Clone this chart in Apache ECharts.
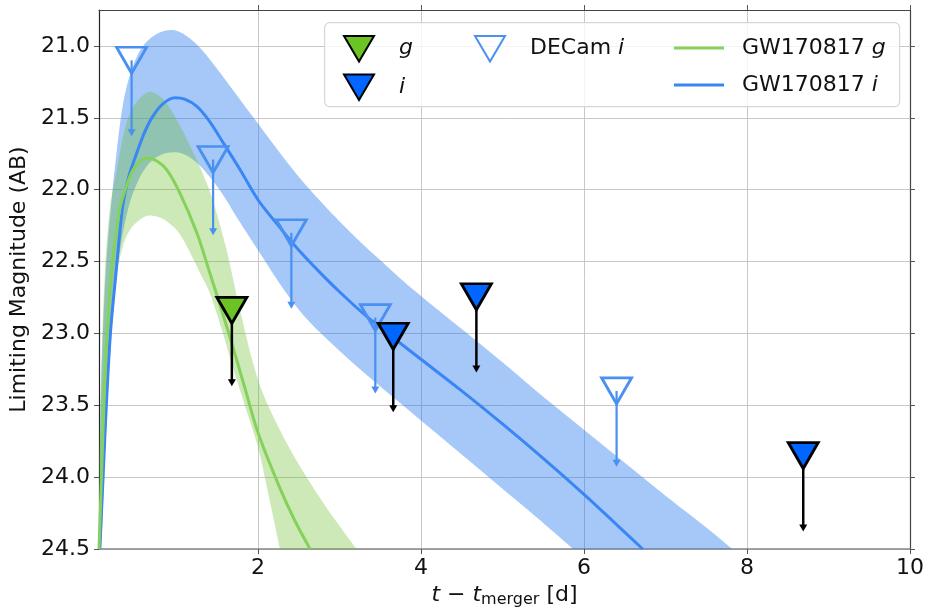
<!DOCTYPE html>
<html>
<head>
<meta charset="utf-8">
<title>GW170817 limits</title>
<script src="https://cdn.jsdelivr.net/npm/echarts@6/dist/echarts.min.js"></script>
<style>
html, body { margin: 0; padding: 0; background: #fff; }
#main { width: 934px; height: 609px; }
</style>
</head>
<body>
<div id="main"></div>
<script>
// tick labels
var X_TICKS = [2, 4, 6, 8, 10];
var Y_TICKS = [21.0, 21.5, 22.0, 22.5, 23.0, 23.5, 24.0, 24.5];

// upper limits [t - t_merger (d), mag]
var gLimits = [[1.68, 22.84]];
var iLimits = [[3.66, 23.02], [4.68, 22.745], [8.69, 23.85]];
var decamLimits = [[0.45, 21.1], [1.45, 21.79], [2.41, 22.30], [3.44, 22.89], [6.40, 23.40]];
var ARROW_LEN = 0.5;

// GW170817 model light curves
var gLine = [[0.05, 24.5], [0.08, 24.0], [0.11, 23.5], [0.15, 23.0], [0.2, 22.6], [0.26, 22.3], [0.31, 22.12],
    [0.39, 21.97], [0.47, 21.86], [0.56, 21.8], [0.65, 21.78], [0.76, 21.8], [0.88, 21.86], [1.04, 22.02],
    [1.25, 22.3], [1.41, 22.58], [1.55, 22.83], [1.68, 23.07], [1.84, 23.38], [2.0, 23.69], [2.25, 24.05],
    [2.45, 24.3], [2.64, 24.5]];
var gUpper = [[0.05, 23.9], [0.08, 23.2], [0.12, 22.6], [0.18, 22.15], [0.27, 21.86], [0.35, 21.62], [0.43, 21.47],
    [0.54, 21.37], [0.66, 21.32], [0.77, 21.34], [0.88, 21.4], [1.02, 21.53], [1.17, 21.7], [1.31, 21.87],
    [1.45, 22.08], [1.62, 22.43], [1.78, 22.84], [2.0, 23.32], [2.25, 23.65], [2.52, 23.93], [2.85, 24.22],
    [3.21, 24.5]];
var gLower = [[0.07, 24.5], [0.1, 24.0], [0.13, 23.5], [0.18, 23.0], [0.26, 22.62], [0.34, 22.4], [0.43, 22.28],
    [0.55, 22.21], [0.66, 22.18], [0.78, 22.19], [0.88, 22.22], [1.03, 22.3], [1.17, 22.44], [1.29, 22.58],
    [1.41, 22.72], [1.55, 22.96], [1.7, 23.25], [1.85, 23.52], [2.0, 23.79], [2.14, 24.15], [2.27, 24.5]];

var iLine = [[0.06, 24.5], [0.1, 24.0], [0.14, 23.5], [0.19, 23.0], [0.25, 22.63], [0.34, 22.12], [0.42, 21.9],
    [0.51, 21.75], [0.61, 21.6], [0.71, 21.49], [0.84, 21.4], [0.98, 21.36], [1.1, 21.37], [1.25, 21.42],
    [1.4, 21.52], [1.57, 21.67], [1.78, 21.86], [2.0, 22.07], [2.25, 22.25], [2.5, 22.42], [2.75, 22.57],
    [3.0, 22.71], [3.33, 22.88], [3.66, 23.03], [4.0, 23.18], [4.5, 23.4], [5.0, 23.63], [5.5, 23.87],
    [6.0, 24.12], [6.4, 24.33], [6.72, 24.5]];
var iUpper = [[0.05, 24.2], [0.08, 23.3], [0.13, 22.6], [0.2, 22.1], [0.27, 21.72], [0.34, 21.42], [0.42, 21.22],
    [0.51, 21.08], [0.62, 20.98], [0.78, 20.91], [0.96, 20.89], [1.12, 20.93], [1.3, 21.02], [1.5, 21.16],
    [1.75, 21.35], [2.0, 21.54], [2.25, 21.73], [2.5, 21.91], [2.75, 22.07], [3.0, 22.22], [3.25, 22.36],
    [3.5, 22.49], [3.75, 22.62], [4.0, 22.74], [4.5, 22.97], [5.0, 23.2], [5.5, 23.44], [6.0, 23.67],
    [6.5, 23.9], [7.0, 24.13], [7.5, 24.35], [7.82, 24.5]];
var iLower = [[0.08, 24.5], [0.12, 23.9], [0.17, 23.3], [0.23, 22.8], [0.3, 22.45], [0.4, 22.15], [0.52, 21.95],
    [0.66, 21.82], [0.8, 21.76], [0.96, 21.74], [1.12, 21.76], [1.3, 21.84], [1.53, 22.0], [1.75, 22.2],
    [2.0, 22.42], [2.3, 22.68], [2.6, 22.9], [3.0, 23.12], [3.4, 23.32], [3.8, 23.51], [4.2, 23.7],
    [4.6, 23.89], [5.0, 24.08], [5.4, 24.27], [5.87, 24.5]];

var FONT = 'DejaVu Sans';
var TRI = 'path://M0,0L20,0L10,17Z';
var C_G = '#6cc424', C_I = '#0066ff', C_DECAM = '#4a90f0';
var C_GLINE = '#84d25a', C_ILINE = '#3a86f5';

var myChart = echarts.init(document.getElementById('main'));

// catmull-rom through pixel points -> svg path segments (no leading M)
function splineSegs(p) {
    var s = '';
    for (var k = 0; k < p.length - 1; k++) {
        var a = p[k - 1] || p[k], b = p[k], c = p[k + 1], d = p[k + 2] || c;
        var c1x = b[0] + (c[0] - a[0]) / 6, c1y = b[1] + (c[1] - a[1]) / 6;
        var c2x = c[0] - (d[0] - b[0]) / 6, c2y = c[1] - (d[1] - b[1]) / 6;
        s += 'C' + c1x + ',' + c1y + ',' + c2x + ',' + c2y + ',' + c[0] + ',' + c[1];
    }
    return s;
}

// filled area between two edges, placed with the axes
function bandItem(upper, lower, fill) {
    return function (params, api) {
        var up = [], lo = [];
        for (var i = 0; i < upper.length; i++) up.push(api.coord(upper[i]));
        for (var j = lower.length - 1; j >= 0; j--) lo.push(api.coord(lower[j]));
        var d = 'M' + up[0][0] + ',' + up[0][1] + splineSegs(up) +
            'L' + lo[0][0] + ',' + lo[0][1] + splineSegs(lo) + 'Z';
        return { type: 'path', shape: { pathData: d }, style: { fill: fill } };
    };
}

// downward upper-limit arrow
function arrowItem(color, w) {
    return function (params, api) {
        var x = api.value(0), y = api.value(1);
        var p0 = api.coord([x, y]);
        var p1 = api.coord([x, y + ARROW_LEN]);
        return {
            type: 'group',
            children: [
                { type: 'line', shape: { x1: p0[0], y1: p0[1], x2: p1[0], y2: p1[1] }, style: { stroke: color, lineWidth: w } },
                { type: 'polygon', shape: { points: [[p1[0] - 4, p1[1] - 3], [p1[0] + 4, p1[1] - 3], [p1[0], p1[1] + 4]] }, style: { fill: color } }
            ]
        };
    };
}

function legendFmt(name) {
    var parts = name.split(' ');
    var last = parts.pop();
    return (parts.length ? parts.join(' ') + ' ' : '') + '{it|' + last + '}';
}

var legendText = {
    fontFamily: FONT, fontSize: 22, color: '#111', lineHeight: 26,
    rich: { it: { fontFamily: FONT, fontSize: 22, fontStyle: 'italic', color: '#111', lineHeight: 26 } }
};

function legendTextPad(p) {
    var t = JSON.parse(JSON.stringify(legendText));
    t.padding = [0, 0, 0, p];
    return t;
}

option = {
    animation: false,
    backgroundColor: '#fff',
    grid: { left: 99, right: 24, top: 10, bottom: 60, containLabel: false, outerBoundsMode: 'none' },
    xAxis: [{
        type: 'value', min: 0.05, max: 10,
        name: '{it|t} − {it|t}{sub|merger} [d]',
        nameLocation: 'middle', nameGap: 30,
        nameTextStyle: {
            fontFamily: FONT, fontSize: 22, color: '#111',
            rich: {
                it: { fontFamily: FONT, fontSize: 22, fontStyle: 'italic', color: '#111' },
                sub: { fontFamily: FONT, fontSize: 16, color: '#111', padding: [10, 0, 0, 0] }
            }
        },
        axisLine: { show: true, lineStyle: { color: '#888', width: 1.5 } },
        axisTick: { show: true, inside: false, length: 5, customValues: X_TICKS, lineStyle: { color: '#555' } },
        axisLabel: { customValues: X_TICKS, fontFamily: FONT, fontSize: 22, color: '#111', margin: 8 },
        splitLine: { show: true, lineStyle: { color: '#c8c8c8', width: 1 } }
    }, {
        type: 'value', min: 0.05, max: 10, position: 'top',
        axisLine: { show: true, onZero: false, lineStyle: { color: '#444', width: 1.2 } },
        axisTick: { show: true, inside: false, length: 5, customValues: X_TICKS, lineStyle: { color: '#555' } },
        axisLabel: { show: false },
        splitLine: { show: false }
    }],
    yAxis: [{
        type: 'value', min: 20.75, max: 24.5, inverse: true,
        name: 'Limiting Magnitude (AB)',
        nameLocation: 'middle', nameGap: 58,
        nameTextStyle: { fontFamily: FONT, fontSize: 22, color: '#111' },
        axisLine: { show: true, onZero: false, lineStyle: { color: '#222', width: 1.2 } },
        axisTick: { show: true, inside: false, length: 5, customValues: Y_TICKS, lineStyle: { color: '#555' } },
        axisLabel: {
            customValues: Y_TICKS, fontFamily: FONT, fontSize: 22, color: '#111', margin: 9,
            formatter: function (v) { return v.toFixed(1); }
        },
        splitLine: { show: true, lineStyle: { color: '#c8c8c8', width: 1 } }
    }, {
        type: 'value', min: 20.75, max: 24.5, inverse: true, position: 'right',
        axisLine: { show: true, onZero: false, lineStyle: { color: '#444', width: 1.2 } },
        axisTick: { show: true, inside: false, length: 5, customValues: Y_TICKS, lineStyle: { color: '#555' } },
        axisLabel: { show: false },
        splitLine: { show: false }
    }],
    legend: [{
        data: [{ name: 'g', icon: TRI }, { name: 'i', icon: TRI }],
        orient: 'vertical', left: 338, top: 30, itemWidth: 30, itemHeight: 26, itemGap: 11,
        selectedMode: false, formatter: legendFmt, textStyle: legendTextPad(20), z: 6
    }, {
        data: [{ name: 'DECam i', icon: TRI }],
        orient: 'vertical', left: 469, top: 30, itemWidth: 30, itemHeight: 26,
        selectedMode: false, formatter: legendFmt, textStyle: legendTextPad(20), z: 6
    }, {
        data: [{ name: 'GW170817 g', icon: 'rect' }, { name: 'GW170817 i', icon: 'rect' }],
        orient: 'vertical', left: 669, top: 30, itemWidth: 50, itemHeight: 3, itemGap: 11,
        selectedMode: false, formatter: legendFmt, textStyle: legendTextPad(13), z: 6
    }],
    graphic: {
        elements: [{
            type: 'rect', left: 324, top: 22, z: 5,
            shape: { width: 575, height: 84, r: 5 },
            style: { fill: 'rgba(255,255,255,0.8)', stroke: '#d6d6d6', lineWidth: 1.2 }
        }]
    },
    series: [{
        type: 'custom', name: 'band i', z: 1, silent: true, clip: true,
        renderItem: bandItem(iUpper, iLower, 'rgba(30,118,238,0.4)'),
        data: [[1, 22]]
    }, {
        type: 'custom', name: 'band g', z: 1, silent: true, clip: true,
        renderItem: bandItem(gUpper, gLower, 'rgba(100,188,30,0.32)'),
        data: [[1, 22]]
    }, {
        type: 'line', name: 'GW170817 i', z: 2, data: iLine, showSymbol: false, smooth: 0.3,
        color: C_ILINE, itemStyle: { color: C_ILINE }, lineStyle: { color: C_ILINE, width: 3 }
    }, {
        type: 'line', name: 'GW170817 g', z: 2, data: gLine, showSymbol: false, smooth: 0.3,
        color: C_GLINE, itemStyle: { color: C_GLINE }, lineStyle: { color: C_GLINE, width: 3 }
    }, {
        type: 'custom', name: 'DECam arrows', z: 3, silent: true,
        renderItem: arrowItem(C_DECAM, 2.2), data: decamLimits
    }, {
        type: 'scatter', name: 'DECam i', z: 3, data: decamLimits, symbol: TRI, symbolSize: [30, 26],
        color: C_DECAM,
        itemStyle: { color: 'rgba(255,255,255,0)', borderColor: C_DECAM, borderWidth: 2.8, opacity: 1 }
    }, {
        type: 'custom', name: 'g arrows', z: 4, silent: true,
        renderItem: arrowItem('#000', 2.5), data: gLimits
    }, {
        type: 'custom', name: 'i arrows', z: 4, silent: true,
        renderItem: arrowItem('#000', 2.5), data: iLimits
    }, {
        type: 'scatter', name: 'g', z: 4, data: gLimits, symbol: TRI, symbolSize: [30, 26],
        itemStyle: { color: C_G, borderColor: '#000', borderWidth: 2.8, opacity: 1 }
    }, {
        type: 'scatter', name: 'i', z: 4, data: iLimits, symbol: TRI, symbolSize: [30, 26],
        itemStyle: { color: C_I, borderColor: '#000', borderWidth: 2.8, opacity: 1 }
    }]
};

myChart.setOption(option);
</script>
</body>
</html>
